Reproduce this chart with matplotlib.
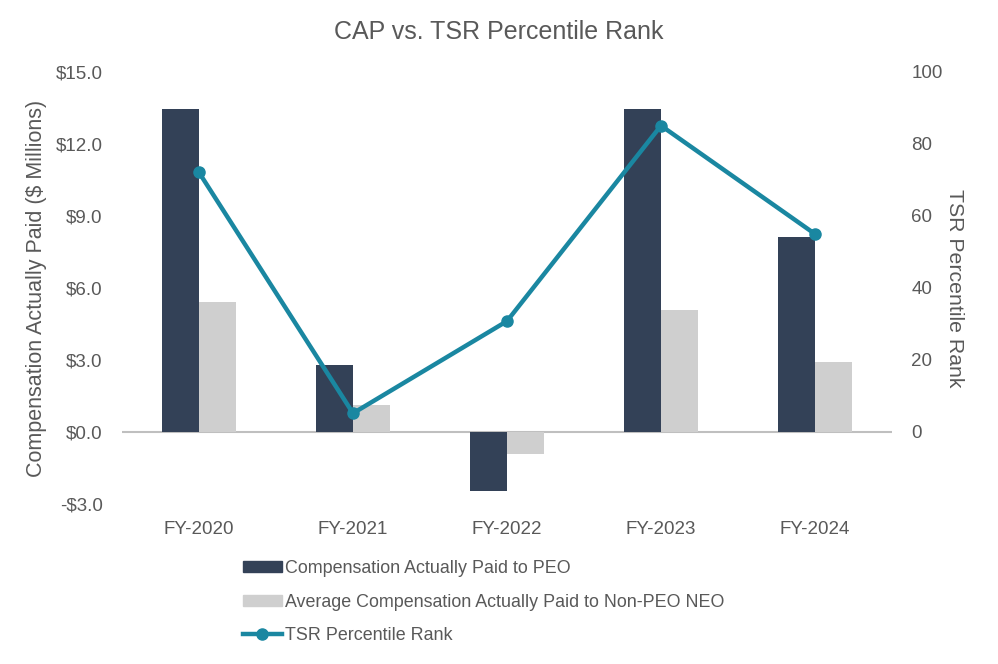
import matplotlib

matplotlib.use("Agg")
import matplotlib.pyplot as plt  # noqa: E402
import numpy as np  # noqa: E402
from matplotlib.lines import Line2D  # noqa: E402
from matplotlib.patches import Patch  # noqa: E402

plt.rcParams["font.family"] = ["Liberation Sans", "DejaVu Sans"]

years = ["FY-2020", "FY-2021", "FY-2022", "FY-2023", "FY-2024"]
cap_peo = [13.45, 2.78, -2.46, 13.45, 8.12]
cap_non_peo = [5.40, 1.12, -0.92, 5.10, 2.92]
tsr_rank = [72.1, 5.2, 30.8, 85.1, 55.0]

left_ticks = [-3.0, 0.0, 3.0, 6.0, 9.0, 12.0, 15.0]
right_ticks = [0, 20, 40, 60, 80, 100]

NAVY = "#334157"
GREY = "#CFCFCF"
TEAL = "#1A87A1"
TEXT = "#595959"

fig = plt.figure(figsize=(9.98, 6.64), dpi=100)
ax = fig.add_axes([122 / 998, 1 - 504 / 664, (892 - 122) / 998, (504 - 72) / 664])

x = np.arange(len(years))
w = 0.24
ax.bar(x - w / 2, cap_peo, width=w, color=NAVY, zorder=2)
ax.bar(x + w / 2, cap_non_peo, width=w, color=GREY, zorder=2)
ax.axhline(0, color="#BFBFBF", linewidth=1.5, zorder=1)

ax.set_xlim(-0.5, len(years) - 0.5)
ax.set_ylim(-3.0, 15.0)
ax.set_yticks(left_ticks)
ax.set_yticklabels([f"-${abs(v):.1f}" if v < 0 else f"${v:.1f}" for v in left_ticks])
ax.set_xticks(x)
ax.set_xticklabels(years)
ax.tick_params(axis="both", length=0, labelsize=13.5, colors=TEXT)
ax.tick_params(axis="x", pad=12)
ax.tick_params(axis="y", pad=14)
for s in ax.spines.values():
    s.set_visible(False)
ax.set_ylabel("Compensation Actually Paid ($ Millions)", fontsize=15.5, color=TEXT, labelpad=6)

ax2 = ax.twinx()
ax2.plot(x, tsr_rank, color=TEAL, linewidth=3.2, marker="o", markersize=8, zorder=3)
ax2.set_ylim(-20, 100)
ax2.set_yticks(right_ticks)
ax2.tick_params(axis="y", length=0, labelsize=13.5, colors=TEXT, pad=14)
for s in ax2.spines.values():
    s.set_visible(False)
ax2.set_ylabel("TSR Percentile Rank", fontsize=15.3, color=TEXT, rotation=270, labelpad=15.5)

fig.text(0.5, 1 - 32 / 664, "CAP vs. TSR Percentile Rank", ha="center", va="center",
         fontsize=18, color=TEXT)

handles = [
    Patch(color=NAVY),
    Patch(color=GREY),
    Line2D([0], [0], color=TEAL, linewidth=3.2, marker="o", markersize=8),
]
labels = [
    "Compensation Actually Paid to PEO",
    "Average Compensation Actually Paid to Non-PEO NEO",
    "TSR Percentile Rank",
]
leg = fig.legend(handles, labels, loc="upper left", bbox_to_anchor=(236 / 998, 1 - 553 / 664),
                 frameon=False, fontsize=12.85, handlelength=2.15, handleheight=0.55,
                 handletextpad=0.2, labelspacing=0.92, borderaxespad=0)
for t in leg.get_texts():
    t.set_color(TEXT)

fig.savefig("out.png", dpi=100)
